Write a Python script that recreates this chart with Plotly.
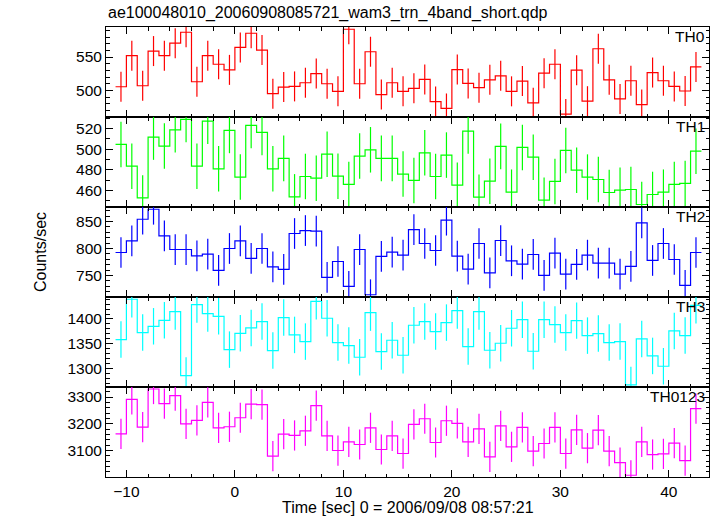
import numpy as np
import plotly.graph_objects as go

title_text = "ae100048010_20060908085721_wam3_trn_4band_short.qdp"
x_title = "Time [sec] 0 = 2006/09/08 08:57:21"
y_title = "Counts/sec"

bin_start = -11.0
bin_width = 1.0

th0 = [505.4, 552, 506.9, 558.9, 552, 570.8, 587.1, 512.9, 552, 539.1,
       530.7, 564.4, 585.6, 560.4, 495, 504.9, 505.9, 511.4, 525.2, 509.9,
       498.5, 591.6, 509.9, 557.9, 493.6, 511.4, 498.5, 503, 516.3, 483.2,
       472.8, 531.2, 510.4, 504, 515.8, 521.8, 498.5, 513.9, 481.2, 525.7,
       539.1, 464.4, 530.2, 483.7, 562.4, 515.8, 487.1, 514.4, 478.7, 526.7,
       514.4, 505.9, 499, 535.1]
th1 = [504.5, 483.5, 452.8, 511.6, 502.9, 518.6, 528.7, 483.5, 527, 480.9,
       518, 472.9, 522.9, 516.1, 480.9, 491, 453.8, 473.5, 471.9, 495.1,
       473.8, 465.8, 493.2, 499.3, 491, 491, 475.8, 469.7, 496.4, 473.5,
       494.2, 465.1, 517.4, 453.5, 469, 502.6, 458.3, 501.6, 492.2, 450.6,
       468.7, 498.7, 479.6, 472.9, 470.6, 458, 460.3, 460.9, 446.4, 456.1,
       458.3, 465.8, 466.8, 498]
th2 = [792.6, 814.2, 854.3, 872.8, 823.5, 798.1, 798.1, 786.4, 789.5, 759.3,
       800, 814.2, 781.5, 800, 766, 761.1, 827.8, 833.3, 832.1, 746.3,
       775.9, 729.6, 798.1, 714.2, 785.2, 793.2, 787.7, 835.2, 809.3, 796.3,
       852.5, 785.8, 761.7, 809.3, 754.9, 814.8, 777.2, 771, 788.9, 750,
       791.4, 752.5, 770.4, 787.7, 772.8, 772.8, 752.5, 766.7, 847.5, 777.8,
       809.3, 779.6, 731.5, 792.6]
th3 = [1358.1, 1439.9, 1372.3, 1385.1, 1397.3, 1414.9, 1285.1, 1429.1, 1410.8, 1405.4,
       1337.8, 1370.9, 1381.8, 1394.6, 1335.8, 1402.7, 1367.6, 1354.1, 1435.8, 1401.4,
       1352, 1346, 1322.3, 1412.8, 1333.8, 1356.8, 1326.4, 1387.2, 1394.6, 1374.3,
       1392.6, 1416.9, 1343.9, 1414.9, 1336.5, 1350.7, 1381.1, 1398.6, 1334.5, 1398.6,
       1388.5, 1372.3, 1396.6, 1366.2, 1370.3, 1352, 1354.1, 1266.2, 1359.5, 1325,
       1304.1, 1375.7, 1366.2, 1427.7]
th0123 = [3162.5, 3291.3, 3187.5, 3330, 3275, 3305, 3200, 3212.5, 3280, 3185,
          3188.8, 3222.5, 3273.8, 3271.3, 3078.8, 3161.3, 3156.3, 3173.8, 3267.5, 3155,
          3100, 3132.5, 3122.5, 3185, 3103.8, 3155, 3088.8, 3197.5, 3218.8, 3130,
          3211.3, 3201.3, 3132.5, 3181.3, 3076.3, 3192.5, 3113.8, 3186.3, 3097.5, 3126.3,
          3186.3, 3088.8, 3177.5, 3108.8, 3176.3, 3097.5, 3055, 3007.5, 3132.5, 3085,
          3087.5, 3127.5, 3062.5, 3256.3]

bands = ["TH0", "TH1", "TH2", "TH3", "TH0123"]
series = [th0, th1, th2, th3, th0123]
colors = ["#ff0000", "#00ff00", "#0000ff", "#00ffff", "#ff00ff"]
err_half = [22.5, 22.0, 28.5, 37.0, 56.5]
y_ranges = [[460, 595], [444, 531], [710, 877], [1262, 1444.5], [3001, 3337.5]]
y_ticks = [[500, 550], [460, 480, 500, 520], [750, 800, 850], [1300, 1350, 1400], [3100, 3200, 3300]]
y_minor = [10, 10, 10, 10, 20]
x_range = [-11.88, 43.7]

FONT = "Liberation Sans, Arial, sans-serif"
fig = go.Figure()
n_panels = len(bands)
ph = 1.0 / n_panels

for k, (name, vals, col) in enumerate(zip(bands, series, colors)):
    n = len(vals)
    edges = bin_start + bin_width * np.arange(n + 1)
    centers = edges[:-1] + bin_width / 2
    xa = "x" if k == 0 else f"x{k+1}"
    ya = "y" if k == 0 else f"y{k+1}"
    fig.add_trace(go.Scatter(
        x=edges, y=list(vals) + [vals[-1]], mode="lines", line_shape="hv",
        line=dict(color=col, width=1.2), xaxis=xa, yaxis=ya, showlegend=False,
        hoverinfo="skip"))
    fig.add_trace(go.Scatter(
        x=centers, y=vals, mode="markers",
        marker=dict(size=1, color="rgba(0,0,0,0)"),
        error_y=dict(type="constant", value=err_half[k], width=0, thickness=1.2, color=col),
        xaxis=xa, yaxis=ya, showlegend=False))

    top = 1 - k * ph
    bot = 1 - (k + 1) * ph
    axis_common = dict(showline=True, linecolor="black", linewidth=1, mirror="ticks",
                       ticks="inside", tickcolor="black", tickwidth=1, ticklen=7,
                       showgrid=False, zeroline=False,
                       tickfont=dict(family=FONT, size=15.5, color="black"))
    xkey = "xaxis" if k == 0 else f"xaxis{k+1}"
    ykey = "yaxis" if k == 0 else f"yaxis{k+1}"
    fig.layout[xkey] = dict(axis_common, range=x_range, anchor=ya, dtick=10, tick0=0,
                            showticklabels=(k == n_panels - 1),
                            minor=dict(ticks="inside", ticklen=3.5, dtick=2, tickcolor="black", tickwidth=1))
    fig.layout[ykey] = dict(axis_common, range=y_ranges[k], anchor=xa, domain=[bot, top],
                            tickvals=y_ticks[k],
                            minor=dict(ticks="inside", ticklen=3.5, dtick=y_minor[k], tickcolor="black", tickwidth=1))
    fig.add_annotation(text=name, xref="paper", yref="paper", x=1, y=top, xanchor="right",
                       yanchor="top", xshift=-2, yshift=1, showarrow=False,
                       font=dict(family=FONT, size=15.5, color="black"))

fig.add_annotation(text=title_text, xref="paper", yref="paper", x=0, y=1, xanchor="left",
                   yanchor="bottom", yshift=3, showarrow=False,
                   font=dict(family=FONT, size=16, color="black"))
fig.add_annotation(text=x_title, xref="paper", yref="paper", x=0.5, y=0, xanchor="center",
                   yanchor="top", yshift=-20, showarrow=False,
                   font=dict(family=FONT, size=16, color="black"))
fig.add_annotation(text=y_title, xref="paper", yref="paper", x=0, y=0.5, xanchor="center",
                   yanchor="middle", xshift=-66, textangle=-90, showarrow=False,
                   font=dict(family=FONT, size=16, color="black"))

fig.update_layout(width=717, height=516, margin=dict(l=106, r=8, t=27, b=39),
                  paper_bgcolor="white", plot_bgcolor="white")
fig.write_html("out.html", config={"displayModeBar": False},
               post_script="document.body.style.margin='0';")
